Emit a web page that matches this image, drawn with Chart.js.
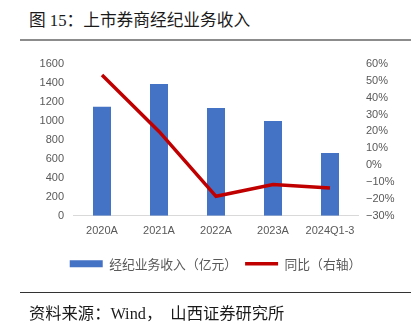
<!DOCTYPE html>
<html>
<head>
<meta charset="utf-8">
<script src="https://cdn.jsdelivr.net/npm/chart.js@4/dist/chart.umd.min.js"></script>
<style>
  html, body { margin: 0; padding: 0; background: #fff; }
  #wrap { position: relative; width: 419px; height: 324px; overflow: hidden; }
  #brokerage { position: absolute; left: 0; top: 0; }
  .title {
    position: absolute; left: 29px; top: 7px;
    font: 16.7px "Liberation Serif", "Noto Sans CJK SC", serif; color: #1a1a1a;
    white-space: nowrap;
  }
  .rule-top { position: absolute; left: 20px; top: 39px; width: 391px; height: 2px; background: #8c8c8c; }
  .rule-bottom { position: absolute; left: 20px; top: 292px; width: 391px; height: 1px; background: #333; }
  .source {
    position: absolute; left: 29px; top: 300px;
    font: 16.3px "Liberation Serif", "Noto Sans CJK SC", serif; color: #1a1a1a;
    white-space: nowrap;
  }
</style>
</head>
<body>
<div id="wrap">
  <div class="title">图 15：上市券商经纪业务收入</div>
  <div class="rule-top"></div>
  <canvas id="brokerage" width="419" height="324"></canvas>
  <div class="rule-bottom"></div>
  <div class="source">资料来源：Wind，&nbsp;&nbsp;山西证券研究所</div>
</div>
<script>
  // x-axis labels
  const periods = ['2020A', '2021A', '2022A', '2023A', '2024Q1-3'];
  // brokerage revenue, 100 million yuan (left axis)
  const revenue = [1150, 1390, 1135, 1000, 660];
  // year-on-year change, % (right axis)
  const yoy = [53.5, 20, -18.5, -11.5, -13.5];

  const tickColor = '#595959';
  const tickFont = { family: '"Liberation Sans", Arial, sans-serif', size: 11 };

  new Chart(document.getElementById('brokerage'), {
    data: {
      labels: periods,
      datasets: [
        {
          type: 'bar',
          label: '经纪业务收入（亿元）',
          data: revenue,
          backgroundColor: '#4472C4',
          yAxisID: 'y',
          barPercentage: 0.316,
          categoryPercentage: 1,
          order: 1
        },
        {
          type: 'line',
          label: '同比（右轴）',
          data: yoy,
          borderColor: '#C00000',
          backgroundColor: '#C00000',
          borderWidth: 3.5,
          pointRadius: 0,
          tension: 0,
          yAxisID: 'y1',
          order: 0
        }
      ]
    },
    options: {
      responsive: false,
      animation: false,
      devicePixelRatio: 1,
      layout: { padding: { top: 64, left: 12, right: 0, bottom: 43.75 } },
      plugins: {
        tooltip: { enabled: false },
        legend: {
          position: 'bottom',
          labels: {
            color: tickColor,
            font: { family: '"Noto Sans CJK SC", sans-serif', size: 12.8 },
            usePointStyle: true,
            pointStyleWidth: 33,
            boxHeight: 7,
            padding: 8,
            generateLabels(chart) {
              const items = Chart.defaults.plugins.legend.labels.generateLabels(chart);
              items.sort((a, b) => a.datasetIndex - b.datasetIndex);
              items.forEach(item => {
                if (item.datasetIndex === 0) {
                  item.pointStyle = 'rect';
                  item.lineWidth = 0;
                } else {
                  item.pointStyle = 'line';
                  item.lineWidth = 3.5;
                  item.strokeStyle = '#C00000';
                }
              });
              return items;
            }
          }
        }
      },
      scales: {
        x: {
          grid: { display: false, drawTicks: false },
          border: { color: '#d9d9d9', width: 1 },
          ticks: { color: tickColor, font: tickFont, padding: 9, maxRotation: 0 },
          afterFit(scale) { scale.height = 33.75; }
        },
        y: {
          position: 'left',
          min: 0,
          max: 1600,
          grid: { display: false, drawTicks: false },
          border: { display: false },
          ticks: {
            stepSize: 200,
            color: tickColor,
            font: tickFont,
            padding: 9.5,
            callback: v => String(v)
          },
          afterFit(scale) { scale.width = 61.5; }
        },
        y1: {
          position: 'right',
          min: -30,
          max: 60,
          grid: { display: false, drawTicks: false },
          border: { display: false },
          ticks: {
            stepSize: 10,
            color: tickColor,
            font: tickFont,
            padding: 7.5,
            callback: v => (v < 0 ? '\u2212' + Math.abs(v) : v) + '%'
          },
          afterFit(scale) { scale.width = 60.5; }
        }
      }
    }
  });
</script>
</body>
</html>
